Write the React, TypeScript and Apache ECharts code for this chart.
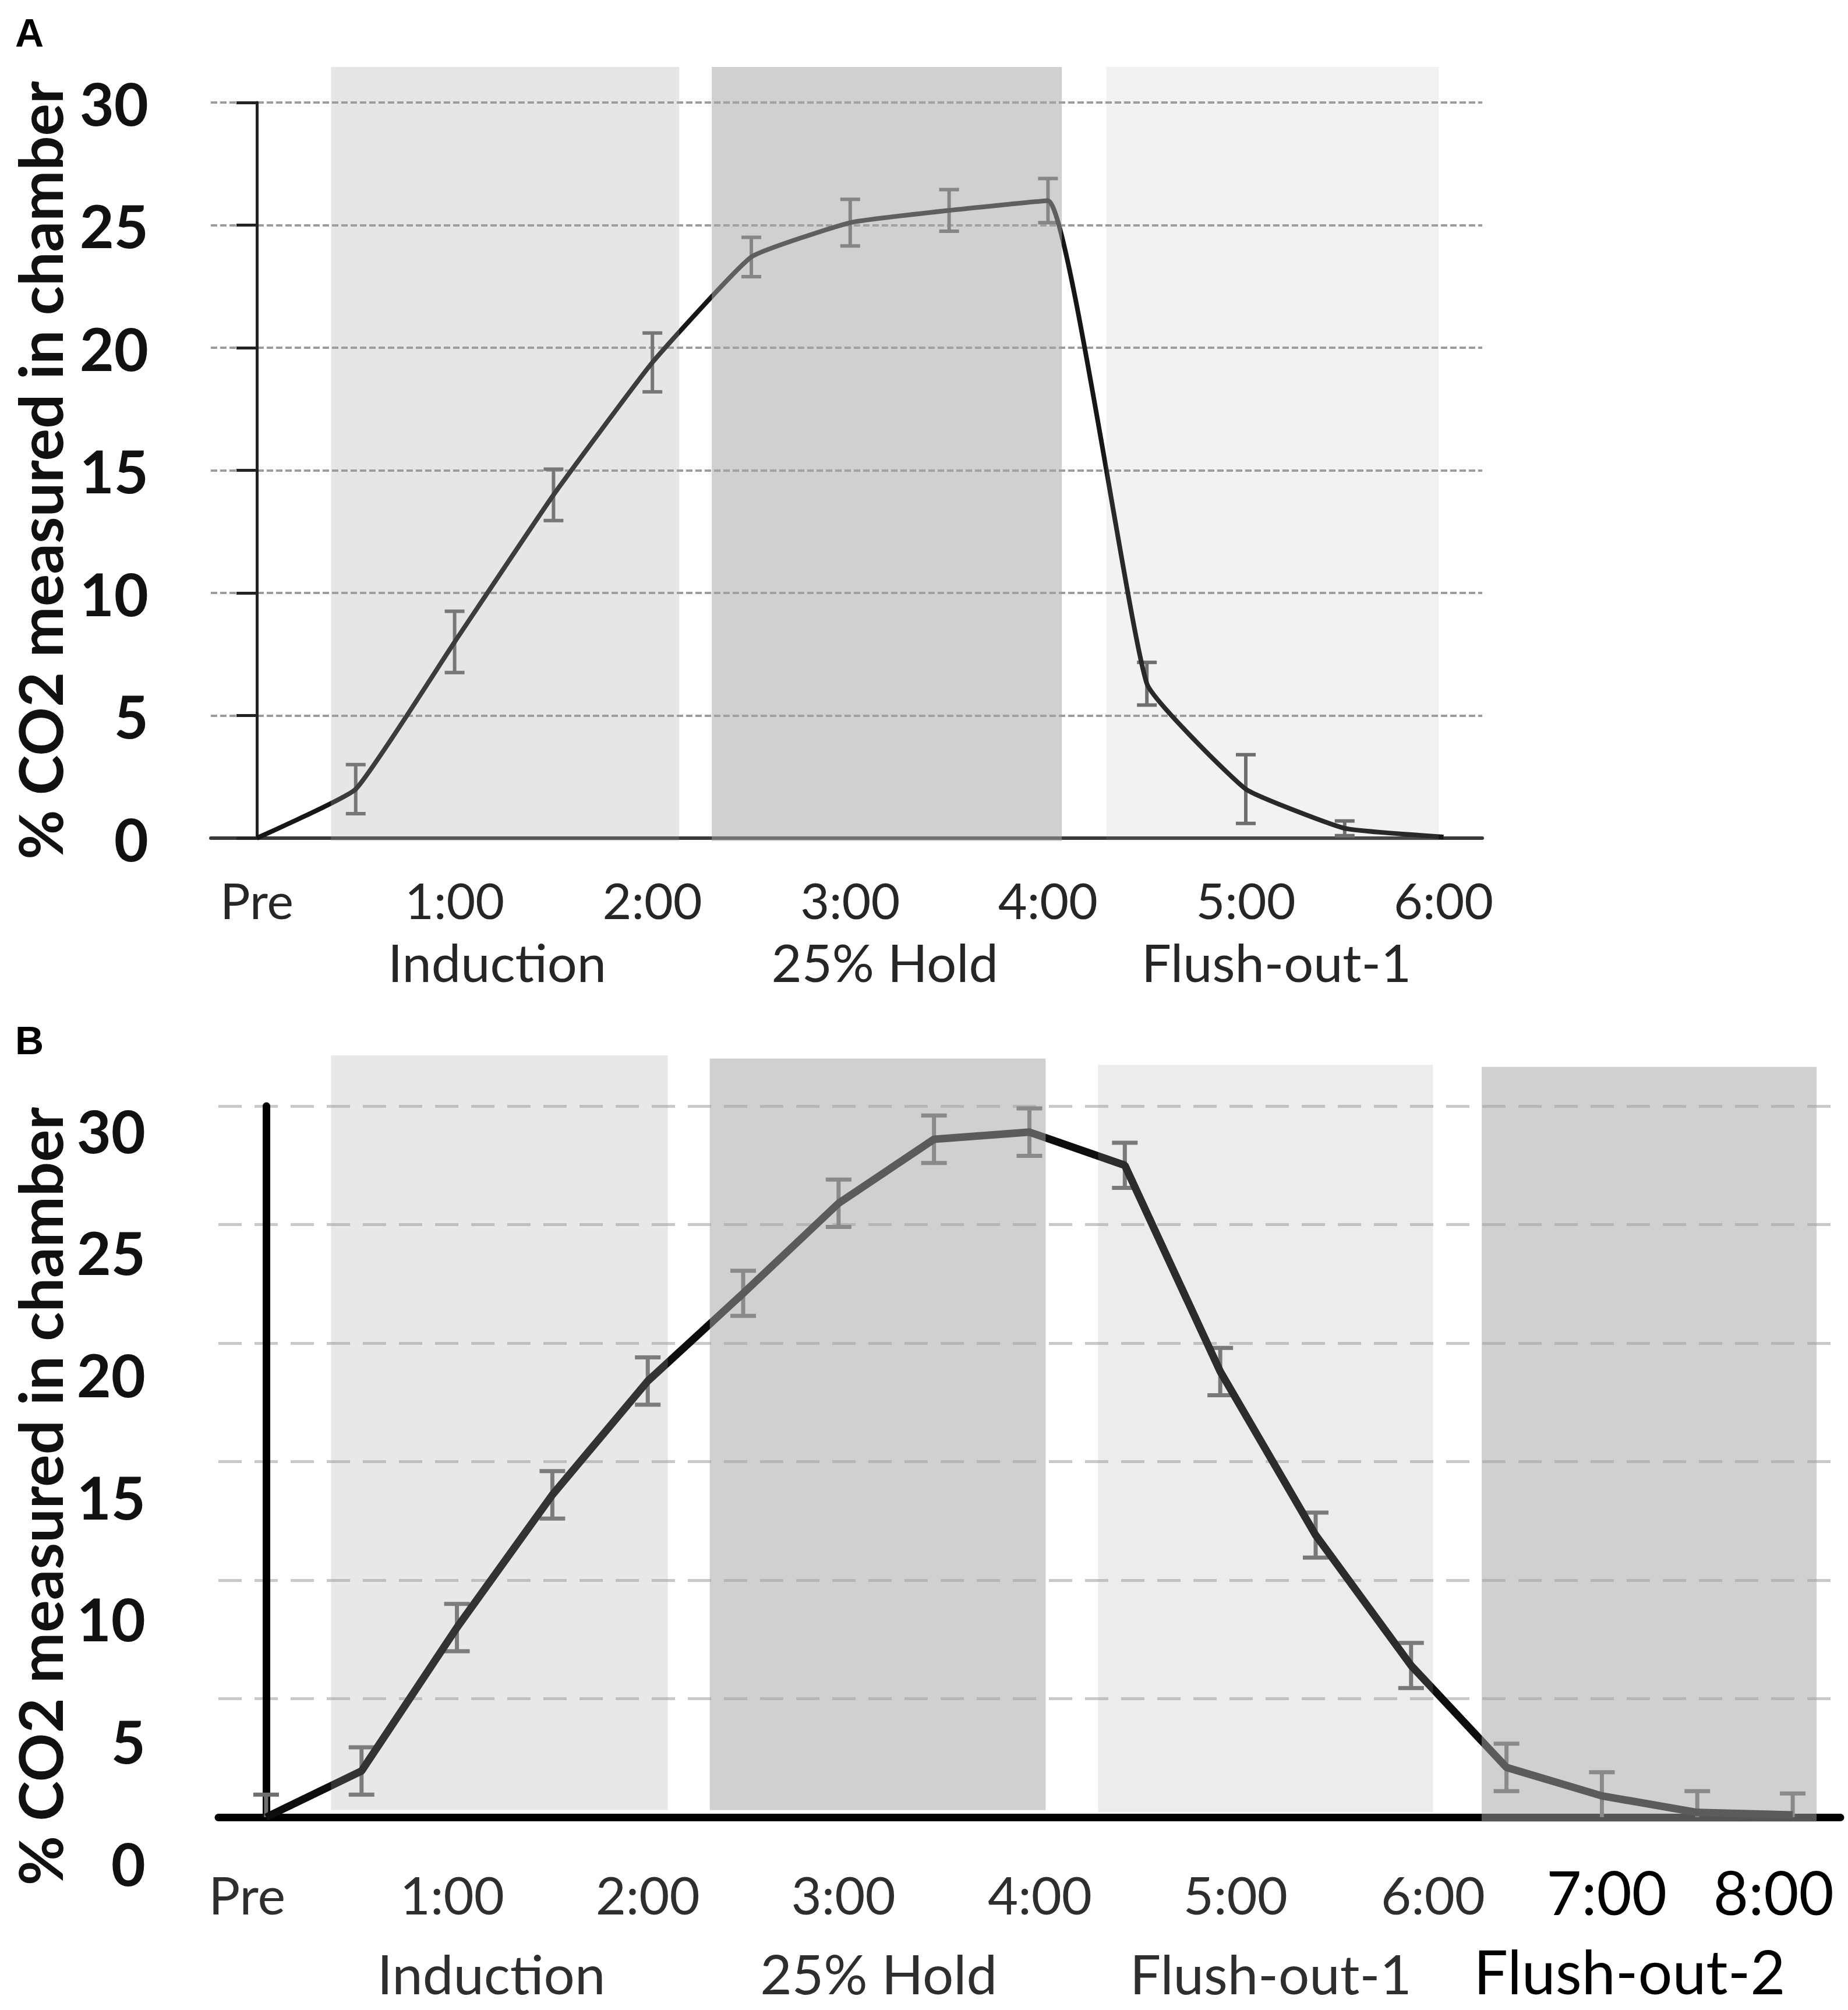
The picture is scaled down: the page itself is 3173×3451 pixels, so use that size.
import React, { useEffect, useRef } from 'react';
import * as echarts from 'echarts';

// ---------- Panel A data ----------
const timePointsA = [0, 1, 2, 3, 4, 5, 6, 7, 8, 9, 10, 11, 12]; // half-hour steps after "Pre"
const co2A = [0, 2.0, 8.0, 14.0, 19.4, 23.7, 25.1, 25.6, 26.0, 6.3, 2.0, 0.4, 0.05];
const errA = [0, 1.0, 1.25, 1.05, 1.2, 0.8, 0.95, 0.85, 0.9, 0.87, 1.4, 0.3, 0];
const tickValuesA = [0, 2, 4, 6, 8, 10, 12];
const tickLabelsA = ['Pre', '1:00', '2:00', '3:00', '4:00', '5:00', '6:00'];
const phasesA = ['Induction', '25% Hold', 'Flush-out-1'];
const phaseStartA = [0.75, 4.6, 8.59];
const phaseEndA = [4.27, 8.14, 11.95];
const phaseTopA = [31.45, 31.45, 31.45];
const phaseBottomA = [-0.12, -0.12, -0.12];
const phaseLabelPosA = [2.43, 6.35, 10.31];

// ---------- Panel B data ----------
const timePointsB = [0, 1, 2, 3, 4, 5, 6, 7, 8, 9, 10, 11, 12, 13, 14, 15, 16];
const co2B = [0, 1.95, 8.0, 13.6, 18.4, 22.1, 25.9, 28.6, 28.9, 27.5, 18.8, 11.9, 6.4, 2.1, 0.9, 0.2, 0.1];
const errB = [0.95, 1.0, 1.0, 1.0, 1.0, 0.95, 1.0, 1.0, 1.0, 0.95, 1.0, 0.95, 0.95, 1.0, 1.0, 0.9, 0.9];
const tickValuesB = [-0.2, 1.95, 4.0, 6.05, 8.11, 10.16, 12.23, 14.05, 15.8];
const tickLabelsB = ['Pre', '1:00', '2:00', '3:00', '4:00', '5:00', '6:00', '7:00', '8:00'];
const phasesB = ['Induction', '25% Hold', 'Flush-out-1', 'Flush-out-2'];
const phaseStartB = [0.68, 4.65, 8.72, 12.74];
const phaseEndB = [4.21, 8.17, 12.23, 16.25];
const phaseTopB = [32.14, 32.0, 31.74, 31.65];
const phaseBottomB = [0.3, 0.3, 0.2, -0.2];
const phaseLabelPosB = [2.36, 6.42, 10.53, 14.29];
const addedLabelsB = ['7:00', '8:00', 'Flush-out-2'];

const yTitle = '% CO2 measured in chamber';

// ---------- styles ----------
const FONT = 'Lato, "Open Sans", sans-serif';
const shadeA = [0.275, 0.516, 0.143];
const shadeB = [0.253, 0.516, 0.209, 0.516];

function nearest(v: number, positions: number[], labels: string[]) {
  let best = 0;
  for (let i = 1; i < positions.length; i++) {
    if (Math.abs(positions[i] - v) < Math.abs(positions[best] - v)) best = i;
  }
  return labels[best];
}

function bandSeries(xIdx: number, yIdx: number, s: number[], e: number[], t: number[], b: number[], shades: number[]) {
  return {
    type: 'custom',
    xAxisIndex: xIdx,
    yAxisIndex: yIdx,
    z: 10,
    clip: false,
    silent: true,
    data: s.map((v, i) => [v, e[i], t[i], b[i], i]),
    renderItem: (params: any, api: any) => {
      const p0 = api.coord([api.value(0), api.value(2)]);
      const p1 = api.coord([api.value(1), api.value(3)]);
      const a = shades[api.value(4)];
      return {
        type: 'rect',
        shape: { x: p0[0], y: p0[1], width: p1[0] - p0[0], height: p1[1] - p0[1] },
        style: { fill: `rgba(164,164,164,${a})` },
      };
    },
  };
}

function errorSeries(xIdx: number, yIdx: number, xs: number[], vals: number[], errs: number[], color: string, width: number, capHalf: number) {
  const data: number[][] = [];
  xs.forEach((x, i) => {
    if (errs[i] > 0) {
      const lo = vals[i] - errs[i];
      data.push([x, Math.max(0, lo), vals[i] + errs[i], lo > 0 ? 1 : 0]);
    }
  });
  return {
    type: 'custom',
    xAxisIndex: xIdx,
    yAxisIndex: yIdx,
    z: 2,
    clip: false,
    silent: true,
    data,
    renderItem: (params: any, api: any) => {
      const x = api.value(0);
      const top = api.coord([x, api.value(2)]);
      const bot = api.coord([x, api.value(1)]);
      const st = { stroke: color, lineWidth: width };
      const children: any[] = [
        { type: 'line', shape: { x1: top[0], y1: top[1], x2: bot[0], y2: bot[1] }, style: st },
        { type: 'line', shape: { x1: top[0] - capHalf, y1: top[1], x2: top[0] + capHalf, y2: top[1] }, style: st },
      ];
      if (api.value(3) === 1) {
        children.push({ type: 'line', shape: { x1: bot[0] - capHalf, y1: bot[1], x2: bot[0] + capHalf, y2: bot[1] }, style: st });
      }
      return { type: 'group', children };
    },
  };
}

export default function App() {
  const ref = useRef<HTMLDivElement>(null);
  useEffect(() => {
    if (!ref.current) return;
    const chart = echarts.init(ref.current, undefined, { renderer: 'svg' });
    const minA = -0.465, maxA = 12.391;
    const minB = -0.5, maxB = 16.5;
    const option: any = {
      animation: false,
      grid: [
        { left: 362, top: 176, width: 2183, height: 1263, outerBoundsMode: 'none' },
        { left: 375, top: 1899, width: 2785, height: 1221, outerBoundsMode: 'none' },
        { left: 375, top: 1940, width: 2785, height: 1258, outerBoundsMode: 'none' },
      ],
      xAxis: [
        {
          gridIndex: 0, type: 'value', min: minA, max: maxA,
          axisLine: { show: true, onZero: false, lineStyle: { color: '#3a3a3a', width: 6 } },
          axisTick: { show: false }, splitLine: { show: false },
          axisLabel: {
            customValues: tickValuesA,
            formatter: (v: number) => nearest(v, tickValuesA, tickLabelsA),
            fontFamily: FONT, fontSize: 86, lineHeight: 86, color: '#262626', margin: 62,
          },
        },
        {
          gridIndex: 0, type: 'value', min: minA, max: maxA, position: 'bottom',
          axisLine: { show: false }, axisTick: { show: false }, splitLine: { show: false },
          axisLabel: {
            customValues: phaseLabelPosA,
            formatter: (v: number) => nearest(v, phaseLabelPosA, phasesA),
            fontFamily: FONT, fontSize: 90, lineHeight: 90, color: '#262626', margin: 167,
          },
        },
        {
          gridIndex: 1, type: 'value', min: minB, max: maxB,
          axisLine: { show: true, onZero: false, lineStyle: { color: '#000', width: 13 } },
          axisTick: { show: false }, splitLine: { show: false },
          axisLabel: {
            customValues: tickValuesB,
            formatter: (v: number) => {
              const t = nearest(v, tickValuesB, tickLabelsB);
              return addedLabelsB.includes(t) ? `{k|${t}}` : `{n|${t}}`;
            },
            margin: 87,
            rich: {
              n: { fontFamily: FONT, fontSize: 90, lineHeight: 90, color: '#2e2e2e' },
              k: { fontFamily: FONT, fontSize: 104, lineHeight: 80, color: '#000' },
            },
          },
        },
        {
          gridIndex: 1, type: 'value', min: minB, max: maxB, position: 'bottom',
          axisLine: { show: false }, axisTick: { show: false }, splitLine: { show: false },
          axisLabel: {
            customValues: phaseLabelPosB,
            formatter: (v: number) => {
              const t = nearest(v, phaseLabelPosB, phasesB);
              return addedLabelsB.includes(t) ? `{k|${t}}` : `{n|${t}}`;
            },
            margin: 220,
            rich: {
              n: { fontFamily: FONT, fontSize: 94, lineHeight: 94, color: '#2e2e2e' },
              k: { fontFamily: FONT, fontSize: 104, lineHeight: 86, color: '#000' },
            },
          },
        },
        { gridIndex: 2, type: 'value', min: 0, max: 1, show: false },
      ],
      yAxis: [
        {
          gridIndex: 0, type: 'value', min: 0, max: 30, interval: 5,
          axisLine: { show: true, lineStyle: { color: '#222', width: 5 } },
          axisTick: { show: true, length: 35, lineStyle: { color: '#222', width: 5 } },
          splitLine: { show: true, lineStyle: { color: '#9c9c9c', width: 4, type: [11, 5] } },
          axisLabel: { fontFamily: FONT, fontWeight: 'bold', fontSize: 102, color: '#111', margin: 107 },
          name: yTitle, nameLocation: 'middle', nameGap: 255,
          nameTextStyle: { fontFamily: FONT, fontWeight: 'bold', fontSize: 104, lineHeight: 80, color: '#111' },
        },
        {
          gridIndex: 1, type: 'value', min: 0, max: 30, interval: 5,
          axisLine: { show: true, lineStyle: { color: '#000', width: 13 } },
          axisTick: { show: false }, axisLabel: { show: false },
          splitLine: { show: true, lineStyle: { color: '#c9c9c9', width: 5, type: [40, 22] } },
        },
        {
          gridIndex: 2, type: 'value', min: 0, max: 30, interval: 5,
          axisLine: { show: false }, axisTick: { show: false }, splitLine: { show: false },
          axisLabel: { fontFamily: FONT, fontWeight: 'bold', fontSize: 102, color: '#111', margin: 125 },
          name: yTitle, nameLocation: 'middle', nameGap: 268,
          nameTextStyle: { fontFamily: FONT, fontWeight: 'bold', fontSize: 104, lineHeight: 80, color: '#111' },
        },
      ],
      graphic: [
        { type: 'text', left: 26, top: 22, style: { text: 'A', fontSize: 68, fontWeight: 'bold', fontFamily: '"Liberation Sans", Arial, sans-serif', fill: '#000' } },
        { type: 'text', left: 26, top: 1752, style: { text: 'B', fontSize: 68, fontWeight: 'bold', fontFamily: '"Liberation Sans", Arial, sans-serif', fill: '#000' } },
      ],
      series: [
        {
          type: 'line', xAxisIndex: 0, yAxisIndex: 0, z: 3, smooth: 0.12, showSymbol: false, silent: true,
          data: co2A.map((v, i) => [timePointsA[i], v]),
          lineStyle: { color: '#161616', width: 8 },
        },
        errorSeries(0, 0, timePointsA, co2A, errA, '#666666', 6, 17),
        bandSeries(0, 0, phaseStartA, phaseEndA, phaseTopA, phaseBottomA, shadeA),
        {
          type: 'line', xAxisIndex: 2, yAxisIndex: 1, z: 3, smooth: false, showSymbol: false, silent: true,
          data: co2B.map((v, i) => [timePointsB[i], v]),
          lineStyle: { color: '#0d0d0d', width: 13 },
        },
        errorSeries(2, 1, timePointsB, co2B, errB, '#6e6e6e', 7, 22),
        bandSeries(2, 1, phaseStartB, phaseEndB, phaseTopB, phaseBottomB, shadeB),
      ],
    };
    chart.setOption(option);
    return () => chart.dispose();
  }, []);
  return <div ref={ref} style={{ position: 'absolute', left: 0, top: 0, width: 3173, height: 3451 }} />;
}
